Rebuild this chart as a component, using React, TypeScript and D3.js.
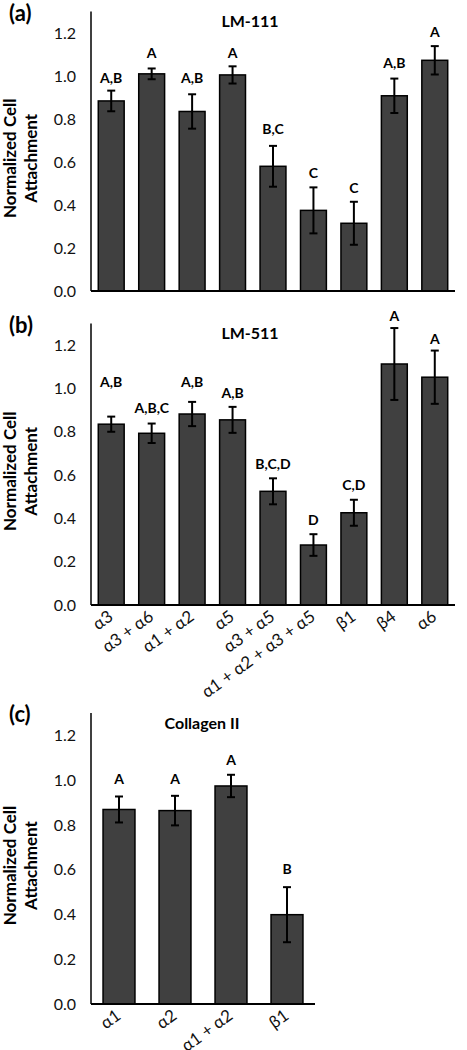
import React from "react";
import * as d3 from "d3";

// ---- data ----
const categoriesAB = ["α3", "α3 + α6", "α1 + α2", "α5", "α3 + α5", "α1 + α2 + α3 + α5", "β1", "β4", "α6"];
const valuesA = [0.884, 1.01, 0.835, 1.005, 0.58, 0.375, 0.315, 0.908, 1.073];
const errorsA = [0.048, 0.025, 0.08, 0.04, 0.095, 0.107, 0.1, 0.08, 0.066];
const lettersA = ["A,B", "A", "A,B", "A", "B,C", "C", "C", "A,B", "A"];
const letterValsA = [0.99, 1.108, 0.99, 1.108, 0.752, 0.548, 0.48, 1.058, 1.203];

const valuesB = [0.835, 0.793, 0.882, 0.855, 0.525, 0.277, 0.426, 1.113, 1.052];
const errorsB = [0.035, 0.045, 0.056, 0.06, 0.06, 0.05, 0.06, 0.166, 0.123];
const lettersB = ["A,B", "A,B,C", "A,B", "A,B", "B,C,D", "D", "C,D", "A", "A"];
const letterValsB = [1.031, 0.908, 1.031, 0.978, 0.651, 0.39, 0.553, 1.335, 1.227];

const categoriesC = ["α1", "α2", "α1 + α2", "β1"];
const valuesC = [0.869, 0.864, 0.974, 0.399];
const errorsC = [0.058, 0.066, 0.05, 0.123];
const lettersC = ["A", "A", "A", "B"];
const letterValsC = [1.004, 1.004, 1.089, 0.602];

const yTicks = [0, 0.2, 0.4, 0.6, 0.8, 1.0, 1.2];

const FONT = "Lato, 'Open Sans', sans-serif";

type PanelProps = {
  tag: string;
  title: string;
  titleX: number;
  cats: string[];
  values: number[];
  errors: number[];
  letters: string[];
  letterVals: number[];
  y0: number;
  yTop: number;
  xRight: number;
  pad: number;
  showX: boolean;
};

function Panel(p: PanelProps) {
  const xLeft = 91;
  const x = d3
    .scaleBand<string>()
    .domain(p.cats)
    .range([xLeft, p.xRight])
    .paddingInner(p.pad)
    .paddingOuter(p.pad / 2);
  const y = d3.scaleLinear().domain([0, 1.3]).range([p.y0, p.yTop]);
  const bw = x.bandwidth();
  const titleMid = (p.yTop + p.y0) / 2 + 7;
  return (
    <g>
      <text x={9} y={p.yTop + 9} fontFamily={FONT} fontWeight="bold" fontSize={22} fill="#000">
        {p.tag}
      </text>
      <text
        x={p.titleX}
        y={y(1.3) + 10}
        dy="0.35em"
        textAnchor="middle"
        fontFamily={FONT}
        fontWeight="bold"
        fontSize={16}
      >
        {p.title}
      </text>
      <g transform={`translate(16,${titleMid}) rotate(-90)`}>
        <text textAnchor="middle" fontFamily={FONT} fontWeight="bold" fontSize={17}>
          Normalized Cell
        </text>
        <text y={21} textAnchor="middle" fontFamily={FONT} fontWeight="bold" fontSize={17}>
          Attachment
        </text>
      </g>
      {yTicks.map((t) => (
        <text
          key={t}
          x={76}
          y={y(t)}
          dy="0.35em"
          textAnchor="end"
          fontFamily={FONT}
          fontSize={16}
          fill="#111"
        >
          {t.toFixed(1)}
        </text>
      ))}
      {p.cats.map((c, i) => {
        const bx = x(c)!;
        const cx = bx + bw / 2;
        const v = p.values[i];
        const e = p.errors[i];
        return (
          <g key={c}>
            <rect
              x={bx}
              y={y(v)}
              width={bw}
              height={p.y0 - y(v)}
              fill="#404040"
              stroke="#000"
              strokeWidth={1.5}
            />
            <line x1={cx} x2={cx} y1={y(v + e)} y2={y(v - e)} stroke="#000" strokeWidth={2} />
            <line x1={cx - 4} x2={cx + 4} y1={y(v + e)} y2={y(v + e)} stroke="#000" strokeWidth={2} />
            <line x1={cx - 4} x2={cx + 4} y1={y(v - e)} y2={y(v - e)} stroke="#000" strokeWidth={2} />
            <text
              x={cx}
              y={y(p.letterVals[i])}
              dy="0.35em"
              textAnchor="middle"
              fontFamily={FONT}
              fontWeight="bold"
              fontSize={14}
            >
              {p.letters[i]}
            </text>
            {p.showX && (
              <text
                transform={`translate(${cx + 3},${p.y0 + 14}) rotate(-36)`}
                textAnchor="end"
                fontFamily={FONT}
                fontSize={17}
                fill="#111"
              >
                {c}
              </text>
            )}
          </g>
        );
      })}
      <line x1={xLeft} x2={xLeft} y1={p.yTop} y2={p.y0} stroke="#000" strokeWidth={1.5} />
      <line x1={xLeft} x2={p.xRight} y1={p.y0} y2={p.y0} stroke="#000" strokeWidth={2} />
    </g>
  );
}

export default function App() {
  return (
    <div style={{ position: "absolute", left: 0, top: 0 }}>
      <svg width={467} height={1050} style={{ display: "block", background: "#fff" }}>
        <rect width={467} height={1050} fill="#fff" />
        <Panel
          tag="(a)"
          title="LM-111"
          titleX={250}
          cats={categoriesAB}
          values={valuesA}
          errors={errorsA}
          letters={lettersA}
          letterVals={letterValsA}
          y0={291}
          yTop={11.5}
          xRight={455}
          pad={0.36}
          showX={false}
        />
        <Panel
          tag="(b)"
          title="LM-511"
          titleX={250}
          cats={categoriesAB}
          values={valuesB}
          errors={errorsB}
          letters={lettersB}
          letterVals={letterValsB}
          y0={605}
          yTop={323.5}
          xRight={455}
          pad={0.36}
          showX={true}
        />
        <Panel
          tag="(c)"
          title="Collagen II"
          titleX={202}
          cats={categoriesC}
          values={valuesC}
          errors={errorsC}
          letters={lettersC}
          letterVals={letterValsC}
          y0={1004}
          yTop={713}
          xRight={315}
          pad={0.43}
          showX={true}
        />
      </svg>
    </div>
  );
}
